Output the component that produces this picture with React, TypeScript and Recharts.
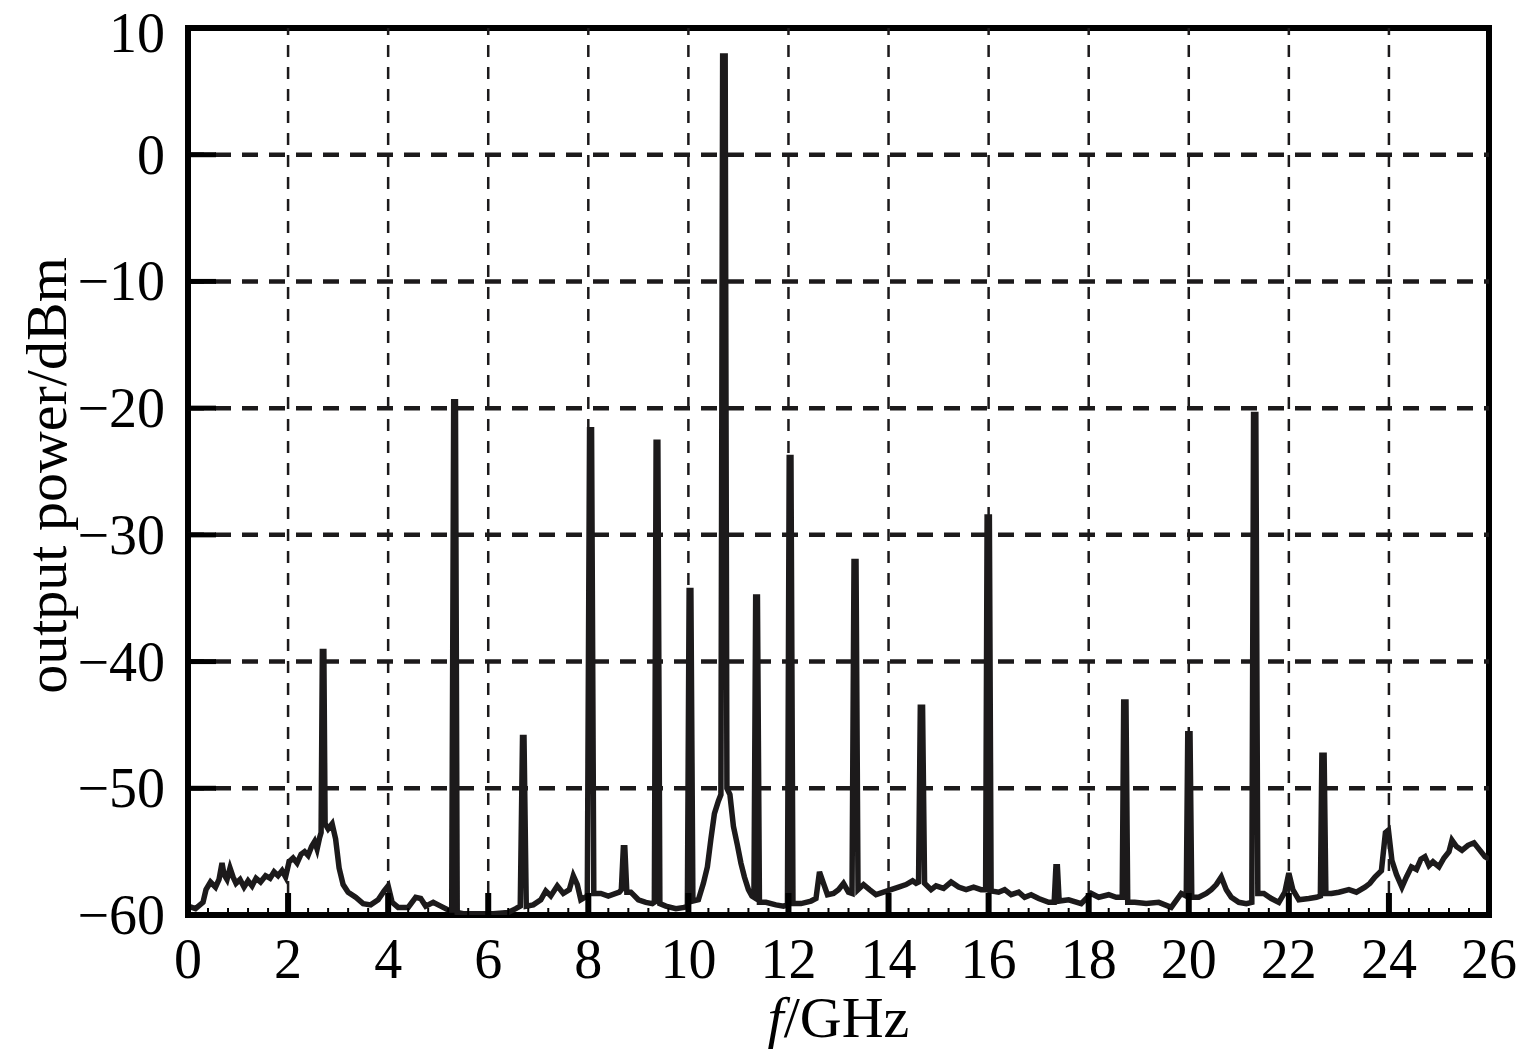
import React from "react";
import { LineChart, Line, XAxis, YAxis, ReferenceLine, ReferenceArea } from "recharts";

// ---- Data ----
// Frequency (GHz) and output power (dBm), segment 0–6.5 GHz
const freqA = [0.0, 0.15, 0.3, 0.36, 0.45, 0.55, 0.62, 0.68, 0.72, 0.78, 0.84, 0.9, 0.96, 1.04, 1.12, 1.2, 1.28, 1.36, 1.45, 1.55, 1.64, 1.72, 1.8, 1.88, 1.95, 2.02, 2.1, 2.18, 2.26, 2.33, 2.4, 2.47, 2.53, 2.58, 2.63, 2.66, 2.685, 2.715, 2.74, 2.8, 2.88, 2.95, 3.02, 3.1, 3.2, 3.35, 3.5, 3.65, 3.8, 3.92, 4.0, 4.08, 4.2, 4.4, 4.55, 4.65, 4.75, 4.9, 5.05, 5.2, 5.27, 5.31, 5.345, 5.38, 5.5, 5.8, 6.1, 6.4];
const powerA = [-59.3, -59.5, -59.0, -58.0, -57.4, -57.8, -57.2, -55.9, -56.8, -57.2, -56.3, -57.0, -57.5, -57.2, -57.8, -57.3, -57.7, -57.1, -57.4, -56.9, -57.1, -56.6, -56.9, -56.5, -57.0, -55.8, -55.5, -55.9, -55.2, -55.0, -55.3, -54.6, -54.2, -54.8, -53.9, -53.5, -39.2, -39.2, -52.8, -53.2, -52.8, -54.0, -56.3, -57.6, -58.2, -58.6, -59.1, -59.2, -58.8, -58.1, -57.7, -59.0, -59.4, -59.4, -58.6, -58.7, -59.3, -59.0, -59.3, -59.6, -59.6, -19.5, -19.5, -59.8, -59.9, -59.9, -59.9, -59.8];

// segment 6.5–12.5 GHz
const freqB = [6.55, 6.64, 6.685, 6.715, 6.76, 6.9, 7.05, 7.15, 7.25, 7.38, 7.5, 7.62, 7.7, 7.78, 7.85, 7.98, 8.025, 8.065, 8.11, 8.25, 8.4, 8.55, 8.62, 8.66, 8.7, 8.73, 8.77, 8.85, 9.0, 9.15, 9.28, 9.32, 9.355, 9.39, 9.43, 9.55, 9.75, 9.92, 9.98, 10.015, 10.05, 10.09, 10.2, 10.3, 10.38, 10.45, 10.52, 10.6, 10.65, 10.685, 10.735, 10.77, 10.83, 10.9, 10.98, 11.05, 11.12, 11.2, 11.27, 11.31, 11.345, 11.38, 11.42, 11.55, 11.75, 11.9, 11.98, 12.015, 12.05, 12.09, 12.25, 12.45];
const powerB = [-59.5, -59.3, -46.0, -46.0, -59.3, -59.2, -58.8, -58.1, -58.5, -57.7, -58.3, -58.0, -56.9, -57.6, -58.8, -58.5, -21.7, -21.7, -58.3, -58.3, -58.5, -58.3, -58.2, -58.0, -54.7, -54.7, -58.2, -58.2, -58.8, -59.0, -59.1, -59.0, -22.7, -22.7, -59.1, -59.3, -59.5, -59.4, -59.3, -34.4, -34.4, -58.9, -58.8, -57.5, -56.2, -54.0, -52.0, -51.0, -50.5, 7.8, 7.8, -50.0, -50.5, -53.0, -54.5, -55.9, -57.0, -58.0, -58.5, -58.6, -34.9, -34.9, -59.0, -59.0, -59.2, -59.3, -59.2, -23.9, -23.9, -59.1, -59.1, -58.9];

// segment 12.5–19.5 GHz
const freqC = [12.55, 12.62, 12.7, 12.78, 12.9, 13.0, 13.1, 13.2, 13.27, 13.31, 13.35, 13.39, 13.5, 13.62, 13.75, 13.9, 14.05, 14.2, 14.35, 14.48, 14.55, 14.6, 14.635, 14.68, 14.72, 14.85, 14.95, 15.1, 15.25, 15.4, 15.55, 15.7, 15.85, 15.94, 15.97, 16.015, 16.05, 16.2, 16.32, 16.45, 16.6, 16.72, 16.85, 17.0, 17.2, 17.31, 17.345, 17.375, 17.41, 17.6, 17.85, 18.05, 18.2, 18.4, 18.55, 18.67, 18.7, 18.745, 18.78, 18.92, 19.15, 19.4];
const powerC = [-58.7, -56.6, -57.5, -58.4, -58.3, -58.0, -57.5, -58.2, -58.3, -32.1, -32.1, -58.0, -57.6, -58.0, -58.4, -58.2, -58.0, -57.8, -57.6, -57.3, -57.5, -57.4, -43.6, -43.6, -57.5, -58.0, -57.7, -57.9, -57.4, -57.8, -58.0, -57.8, -58.0, -58.0, -28.6, -28.6, -58.1, -58.2, -58.0, -58.4, -58.2, -58.6, -58.4, -58.7, -59.0, -59.0, -56.2, -56.2, -58.9, -58.8, -59.1, -58.3, -58.6, -58.4, -58.6, -58.6, -43.2, -43.2, -59.0, -59.0, -59.1, -59.0];

// segment 19.5–26 GHz
const freqD = [19.65, 19.85, 19.95, 19.98, 20.025, 20.06, 20.2, 20.35, 20.45, 20.55, 20.65, 20.75, 20.85, 21.0, 21.15, 21.26, 21.295, 21.34, 21.38, 21.5, 21.65, 21.8, 21.92, 22.0, 22.08, 22.2, 22.4, 22.55, 22.63, 22.66, 22.705, 22.74, 22.85, 23.0, 23.2, 23.35, 23.52, 23.62, 23.72, 23.85, 23.93, 23.99, 24.06, 24.15, 24.26, 24.35, 24.45, 24.55, 24.64, 24.72, 24.8, 24.88, 25.0, 25.1, 25.2, 25.26, 25.35, 25.46, 25.58, 25.7, 25.8, 25.92, 26.0];
const powerD = [-59.4, -58.3, -58.5, -45.7, -45.7, -58.6, -58.6, -58.3, -58.0, -57.6, -57.0, -58.0, -58.6, -59.0, -59.1, -59.0, -20.5, -20.5, -58.3, -58.3, -58.7, -59.0, -58.2, -56.7, -58.0, -58.8, -58.7, -58.6, -58.5, -47.4, -47.4, -58.3, -58.3, -58.2, -58.0, -58.2, -57.8, -57.5, -57.0, -56.5, -53.5, -53.3, -55.7, -56.8, -57.8, -57.0, -56.2, -56.4, -55.6, -55.4, -56.1, -55.8, -56.2, -55.5, -55.0, -54.1, -54.6, -54.9, -54.5, -54.3, -54.8, -55.4, -55.6];

// Axis ticks
const xGridLines = [2, 4, 6, 8, 10, 12, 14, 16, 18, 20, 22, 24];
const yTicks = [-60, -50, -40, -30, -20, -10, 0, 10];
const yGridLines = [-50, -40, -30, -20, -10, 0];
const xMinorTicks = Array.from({ length: 66 }, (_, i) => Math.round(i * 4) / 10);

const xTitle = "/GHz";
const yTitle = "output power/dBm";

const allFreq = [...freqA, ...freqB, ...freqC, ...freqD];
const allPower = [...powerA, ...powerB, ...powerC, ...powerD];
const data = allFreq.map((f, i) => ({ f, p: allPower[i] }));

const FONT = "'Liberation Serif', 'Times New Roman', serif";
const INK = "#1c1a1b";

const isMajor = (v: number) => Math.abs(v / 2 - Math.round(v / 2)) < 1e-6;

const BottomTick = (props: any) => {
  const { x, y, payload } = props;
  const v = payload.value;
  const major = isMajor(v);
  return (
    <g>
      <line x1={x} x2={x} y1={y} y2={y - (major ? 22 : 7)} stroke="#000" strokeWidth={major ? 6 : 2} />
      {major && (
        <text x={x} y={y + 63} textAnchor="middle" fontSize={56} fontFamily={FONT} fill="#000">
          {v}
        </text>
      )}
    </g>
  );
};

const TopTick = (props: any) => {
  const { x, y } = props;
  return <line x1={x} x2={x} y1={y} y2={y + 7} stroke="#000" strokeWidth={2} />;
};

const LeftTick = (props: any) => {
  const { x, y, payload } = props;
  const v = payload.value as number;
  const label = v < 0 ? "\u2212" + Math.abs(v) : String(v);
  const baseline = Math.max(y + 19, 52);
  return (
    <g>
      {v !== 10 && v !== -60 && (
        <line x1={x} x2={x + 28} y1={y} y2={y} stroke="#000" strokeWidth={5} />
      )}
      <text x={x - 23} y={baseline} textAnchor="end" fontSize={56} fontFamily={FONT} fill="#000">
        {label}
      </text>
    </g>
  );
};

const XTitle = (props: any) => {
  const vb = props.viewBox || {};
  const cx = vb.x + vb.width / 2;
  return (
    <text x={cx} y={vb.y + 122} textAnchor="middle" fontSize={58} fontFamily={FONT} fill="#000">
      <tspan fontStyle="italic">f</tspan>
      {xTitle}
    </text>
  );
};

const YTitle = (props: any) => {
  const vb = props.viewBox || {};
  const cx = 58;
  const cy = vb.y + vb.height / 2 + 4;
  return (
    <text
      x={cx}
      y={cy}
      transform={`rotate(-90, ${cx}, ${cy})`}
      textAnchor="middle"
      fontSize={58}
      fontFamily={FONT}
      fill="#000"
    >
      {yTitle}
    </text>
  );
};

export default function App() {
  return (
    <div style={{ width: 1516, height: 1056, marginTop: -8, background: "#fff" }}>
      <LineChart width={1516} height={1056} data={data} margin={{ top: 28, right: 35, bottom: 41, left: 0 }}>
        <XAxis
          dataKey="f"
          type="number"
          domain={[0, 26]}
          ticks={xMinorTicks}
          interval={0}
          tick={<BottomTick />}
          tickLine={false}
          axisLine={false}
          tickSize={0}
          tickMargin={0}
          height={100}
          allowDataOverflow
          label={{ content: (p: any) => <XTitle {...p} /> }}
        />
        <XAxis
          xAxisId="top"
          orientation="top"
          dataKey="f"
          type="number"
          domain={[0, 26]}
          ticks={xMinorTicks}
          interval={0}
          tick={<TopTick />}
          tickLine={false}
          axisLine={false}
          tickSize={0}
          tickMargin={0}
          height={0}
          allowDataOverflow
        />
        <YAxis
          type="number"
          domain={[-60, 10]}
          ticks={yTicks}
          interval={0}
          tick={<LeftTick />}
          tickLine={false}
          axisLine={false}
          tickSize={0}
          tickMargin={0}
          width={180}
          allowDataOverflow
          label={{ content: (p: any) => <YTitle {...p} /> }}
        />
        {xGridLines.map((v) => (
          <ReferenceLine key={"vx" + v} x={v} stroke={INK} strokeWidth={2.5} strokeDasharray="12 10" />
        ))}
        {yGridLines.map((v) => (
          <ReferenceLine key={"hy" + v} y={v} stroke={INK} strokeWidth={4.5} strokeDasharray="16 11" />
        ))}
        <Line
          type="linear"
          dataKey="p"
          stroke={INK}
          strokeWidth={5.5}
          dot={false}
          activeDot={false}
          isAnimationActive={false}
        />
        <ReferenceArea x1={0} x2={26} y1={-60} y2={10} fill="none" fillOpacity={0} stroke="#000" strokeWidth={6} />
      </LineChart>
    </div>
  );
}
